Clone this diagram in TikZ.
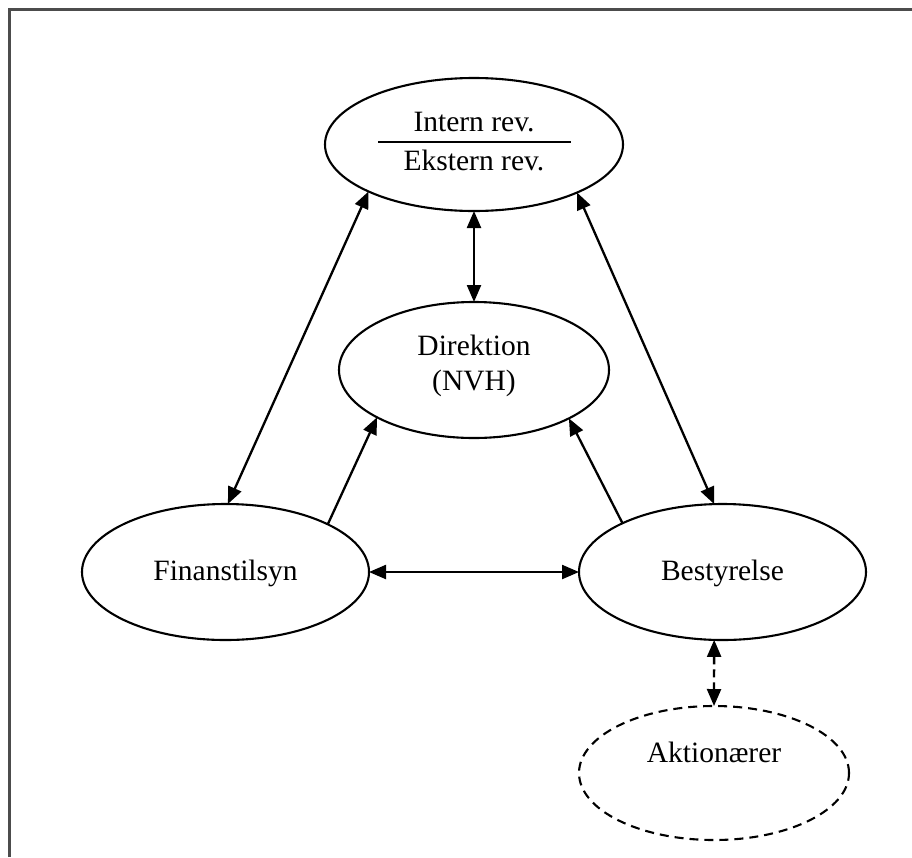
\documentclass[tikz,border=0pt]{standalone}
\usepackage{fontspec}
\setmainfont{Liberation Serif}
\usetikzlibrary{arrows.meta,shapes.geometric}
\begin{document}
\begin{tikzpicture}[x=1pt,y=-1pt,
  ell/.style={draw,line width=2.1pt,ellipse,inner sep=0pt,outer sep=0pt},
  lbl/.style={font=\fontsize{29.5}{35}\selectfont,inner sep=0pt,anchor=base},
  conn/.style={line width=2.3pt,{Triangle[length=17pt,width=14pt]}-{Triangle[length=17pt,width=14pt]}},
  oneway/.style={line width=2.3pt,-{Triangle[length=17pt,width=14pt]}},
  frameline/.style={line width=2.5pt,draw=black!70}]
\useasboundingbox (0,0) rectangle (912,857);
\coordinate (fb) at (9.5,857);
\coordinate (fc) at (9.5,9.5);
\coordinate (fr) at (912,9.5);
\draw[frameline] (fb) -- (fc) -- (fr);

\node[ell,minimum width=298pt,minimum height=133pt] (rev) at (474,144.5) {};
\node[ell,minimum width=270pt,minimum height=136pt] (dir) at (474,370) {};
\node[ell,minimum width=287pt,minimum height=136pt] (fin) at (225.5,572) {};
\node[ell,minimum width=287pt,minimum height=136pt] (best) at (722.5,572) {};
\node[ell,dash pattern=on 9pt off 6pt,minimum width=270pt,minimum height=134pt] (akt) at (714,773) {};

\node[lbl] (t1) at (474,131) {Intern rev.};
\node[lbl] (t2) at (474,170) {Ekstern rev.};
\coordinate (dl) at (378,142);
\coordinate (dr) at (571,142);
\draw[line width=2.1pt] (dl) -- (dr);
\node[lbl] (t3) at (474,355) {Direktion};
\node[lbl] (t4) at (474,390) {(NVH)};
\node[lbl] (t5) at (225.5,580) {Finanstilsyn};
\node[lbl] (t6) at (722.5,580) {Bestyrelse};
\node[lbl] (t7) at (714,762) {Aktionærer};

\draw[conn] (rev.204.6) -- (fin.88);
\draw[conn] (rev.335.4) -- (best.97.8);
\draw[conn] (rev.south) -- (dir.north);
\draw[oneway] (fin.25.5) -- (dir.206.6);
\draw[oneway] (best.154.9) -- (dir.333.4);
\draw[conn] (fin.east) -- (best.west);
\draw[conn,dash pattern=on 8pt off 5pt] (best.263) -- (akt.north);
\end{tikzpicture}
\end{document}
